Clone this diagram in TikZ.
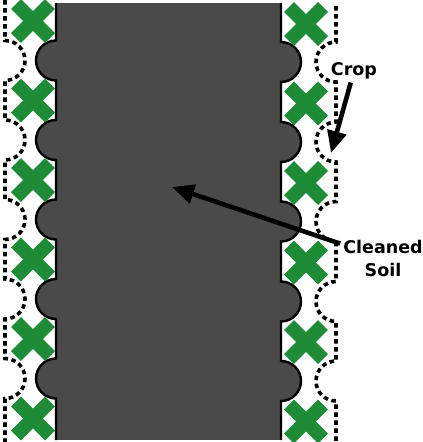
\documentclass[tikz,border=0pt]{standalone}
\usepackage{fontspec}
\setmainfont{DejaVu Sans}
\usetikzlibrary{arrows.meta}
\definecolor{soilgray}{RGB}{74,74,74}
\definecolor{cropgreen}{RGB}{30,140,55}

\begin{document}
\begin{tikzpicture}[x=1pt, y=1pt, font=\bfseries\fontsize{17.5}{23}\selectfont]
    \tikzstyle{edge}=[draw=black, line width=2.4pt]
    \tikzstyle{cross}=[draw=cropgreen, line width=14pt]
    \tikzstyle{border}=[draw=black, line width=3.6pt, dash pattern=on 4.5pt off 3.5pt]
    \tikzstyle{pointer}=[-{Triangle[length=22pt, width=19pt]}, line width=4.6pt]
    \tikzstyle{tag}=[align=center, inner sep=3pt]
    \useasboundingbox (0,0) rectangle (423,-442);

    % soil band with its bumps
    \fill [soilgray] (56,-3) rectangle (281,-440);
    \foreach \y in {60.5, 140, 219.5, 299, 378.5} \fill [soilgray] (56,-\y) circle (20);
    \foreach \y in {62, 142, 221.5, 301.5, 381} \fill [soilgray] (281,-\y) circle (20);
    \draw [edge] (56,-3) \foreach \y in {60.5, 140, 219.5, 299, 378.5} { -- (56,-\y+20) arc [start angle=90, end angle=270, radius=20] } -- (56,-440);
    \draw [edge] (281,-3) \foreach \y in {62, 142, 221.5, 301.5, 381} { -- (281,-\y+20) arc [start angle=90, end angle=-90, radius=20] } -- (281,-440);

    % crop rows
    \draw [border] (5,0) \foreach \y in {60.5, 140, 219.5, 299, 378.5} { -- (5,-\y+20) arc [start angle=90, end angle=-90, radius=20] } -- (5,-442);
    \draw [border] (336,-6) \foreach \y in {62, 142, 221.5, 301.5, 381} { -- (336,-\y+20) arc [start angle=90, end angle=270, radius=20] } -- (336,-442);
    \foreach \y in {21, 100.5, 180, 259.5, 339, 418.5}
        \draw [cross] (16,-\y+17) -- (50,-\y-17) (16,-\y-17) -- (50,-\y+17);
    \foreach \y in {24, 103.5, 183, 262.5, 342, 421.5}
        \draw [cross] (289,-\y+17) -- (323,-\y-17) (289,-\y-17) -- (323,-\y+17);

    \node (crop) [tag] at (354,-71) {Crop};
    \node (soil) [tag] at (383,-258) {Cleaned\\Soil};
    \coordinate (croptip) at (331,-153);
    \coordinate (soiltip) at (172,-187);
    \draw [pointer] (crop) -- (croptip);
    \draw [pointer] (soil) -- (soiltip);
\end{tikzpicture}
\end{document}
